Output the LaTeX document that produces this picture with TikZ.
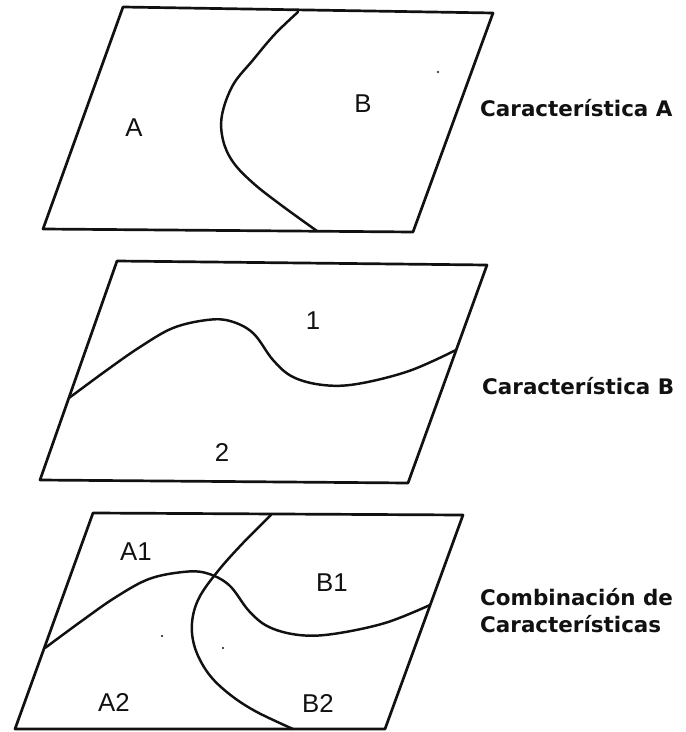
\documentclass[tikz,border=0pt]{standalone}
\usepackage{fontspec}
\setmainfont{Liberation Sans}
\newfontfamily\capfont{DejaVu Sans}
\usetikzlibrary{positioning}
\definecolor{ink}{HTML}{111111}

\begin{document}
\begin{tikzpicture}[
 x=0.3mm,y=-0.3mm,
 region/.style={font=\fontsize{22}{24}\selectfont,text=ink,inner sep=0pt},
 caption/.style={font=\capfont\bfseries\fontsize{18.3}{23}\selectfont,text=ink,align=left,anchor=west,inner sep=0pt},
 sheet/.style={draw=ink,line width=2.3pt,line join=round},
 frontier/.style={draw=ink,line width=2.1pt,line cap=round},
 speck/.style={fill=ink}
]
\useasboundingbox[fill=white] (0,0) rectangle (685,732);

% Característica A.
\begin{scope}[shift={(123,7)}]
\draw[sheet] (0,0) -- (370,6) -- (290,225) -- (-80,222) -- cycle;
\draw[frontier] plot[smooth,tension=0.6] coordinates {(175,5) (152,27) (130,53) (110,78) (99,108) (100,133) (110,155) (130,176) (158,198) (194,224)};
\end{scope}
\node[region] (zonaA) at (134,128) {A};
\node[region] (zonaB) at (363,104) {B};
\fill[speck] (438,72) circle (1.2);
\node[caption] (carA) at (480,108) {Característica A};

% Característica B.
\begin{scope}[shift={(117,261)}]
\draw[sheet] (0,0) -- (370,4) -- (291,222) -- (-77,219) -- cycle;
\draw[frontier] plot[smooth,tension=0.6] coordinates {(-48,137) (-10,109) (23,86) (56,67) (90,59) (113,60) (136,72) (156,99) (176,116) (206,124) (240,123) (292,110) (339,89)};
\end{scope}
\node[region] (zona1) at (313,321) {1};
\node[region] (zona2) at (222,452) {2};
\node[caption] (carB) at (482,386) {Característica B};

% Combinación.
\begin{scope}[shift={(93,513)}]
\draw[sheet] (0,0) -- (370,2) -- (292,216) -- (-78,216) -- cycle;
\draw[frontier] plot[smooth,tension=0.6] coordinates {(-48,135) (-10,107) (23,84) (56,66) (90,59) (113,60) (136,72) (156,98) (176,114) (206,122) (240,121) (292,110) (337,92)};
\draw[frontier] plot[smooth,tension=0.6] coordinates {(178,2) (150,30) (125,58) (106,85) (99,110) (102,135) (115,160) (135,180) (162,198) (200,216)};
\end{scope}
\node[region] (zonaA1) at (136,552) {A1};
\node[region] (zonaB1) at (332,583) {B1};
\node[region] (zonaA2) at (114,702) {A2};
\node[region] (zonaB2) at (318,703) {B2};
\fill[speck] (162,636) circle (1.2);
\fill[speck] (223,648) circle (1.2);
\node[caption] (carAB) at (480,611) {Combinación de\\Características};
\end{tikzpicture}
\end{document}
